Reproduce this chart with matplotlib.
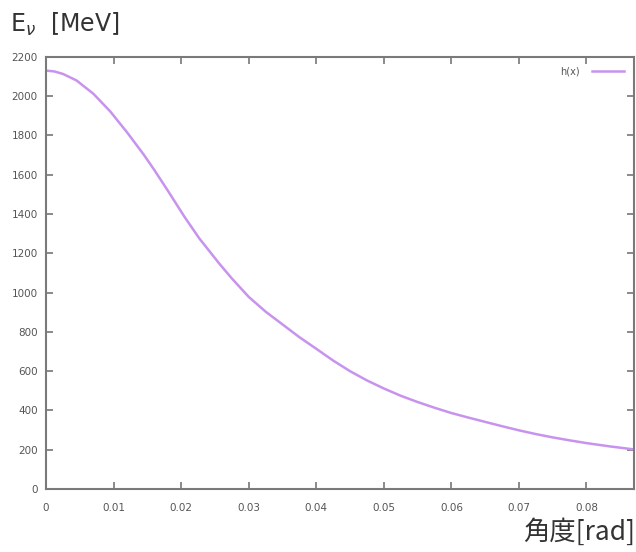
import matplotlib
matplotlib.use("Agg")
import matplotlib.pyplot as plt

# values
angle = [0, 0.0012, 0.0025, 0.0045, 0.007, 0.0095, 0.012, 0.0145, 0.016,
         0.018, 0.0205, 0.0227, 0.0257, 0.0275, 0.030, 0.0325, 0.035,
         0.0375, 0.040, 0.0425, 0.045, 0.0475, 0.050, 0.0525, 0.055,
         0.0575, 0.060, 0.0625, 0.065, 0.0675, 0.070, 0.0725, 0.075,
         0.0775, 0.080, 0.0835, 0.087]
energy = [2130, 2126, 2113, 2080, 2012, 1922, 1815, 1700, 1625,
          1520, 1385, 1275, 1145, 1072, 978, 903, 838,
          773, 714, 654, 600, 553, 512, 475, 443,
          414, 387, 364, 342, 320, 299, 280, 263,
          248, 234, 217, 202]
xticks = [0, 0.01, 0.02, 0.03, 0.04, 0.05, 0.06, 0.07, 0.08]
xlabels = ["0", "0.01", "0.02", "0.03", "0.04", "0.05", "0.06", "0.07", "0.08"]
yticks = list(range(0, 2201, 200))

plt.rcParams["font.family"] = ["DejaVu Sans", "Noto Sans CJK JP"]
plt.rcParams["mathtext.fontset"] = "dejavusans"

fig = plt.figure(figsize=(6.36, 5.52), dpi=100)
ax = fig.add_axes([0.0725, 0.114, 0.924, 0.783])

ax.plot(angle, energy, color="#c893ee", lw=1.8, label="h(x)",
        solid_joinstyle="round")
ax.set_xlim(0, 0.087)
ax.set_ylim(0, 2200)
ax.set_xticks(xticks)
ax.set_xticklabels(xlabels)
ax.set_yticks(yticks)
ax.tick_params(direction="in", length=5, width=1.2, color="#777777",
               labelsize=7.5, labelcolor="#555555", top=True, right=True)
ax.tick_params(axis="x", pad=10)
ax.tick_params(axis="y", pad=6)
for s in ax.spines.values():
    s.set_color("#7a7a7a")
    s.set_linewidth(1.5)

ax.legend(loc="upper right", frameon=False, fontsize=7, handlelength=3.3,
          handletextpad=1.3, markerfirst=False, labelcolor="#555555",
          borderaxespad=0.6)

fig.text(0.015, 0.942, r"E$_{\nu}$  [MeV]", fontsize=17, color="#333333",
         ha="left", va="baseline")
fig.text(0.999, 0.036, "角度[rad]", fontsize=19, color="#333333",
         ha="right", va="center", family=["Noto Sans CJK JP", "DejaVu Sans"])

fig.savefig("out.png", dpi=100)
